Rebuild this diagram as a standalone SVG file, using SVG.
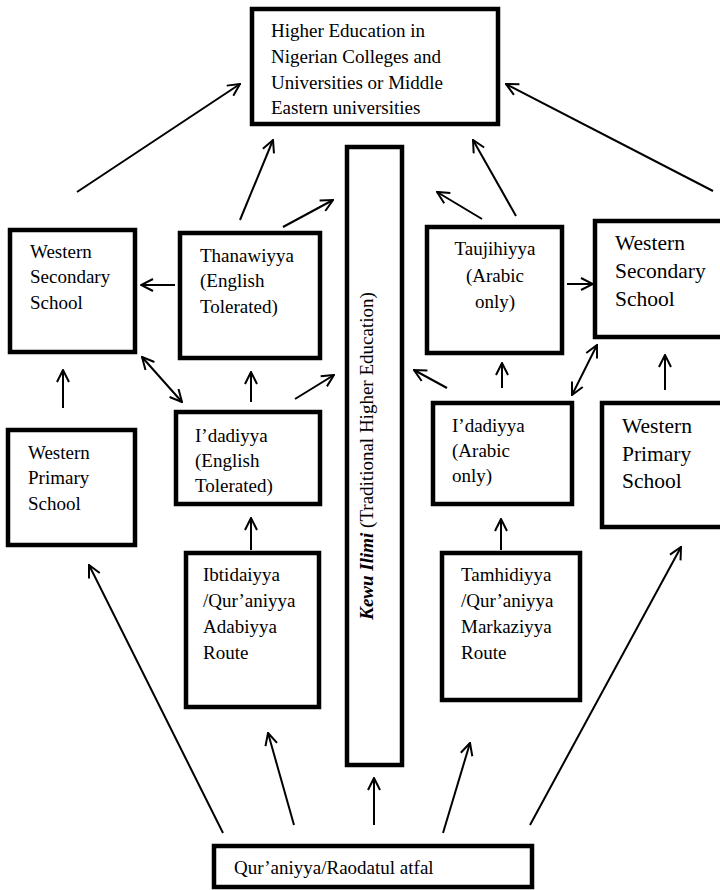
<svg xmlns="http://www.w3.org/2000/svg" width="720" height="890" viewBox="0 0 720 890">
<defs>
<style>
.box{fill:#fff;stroke:#000;stroke-width:4.5}
.t{font-family:"Liberation Serif","Times New Roman",serif;font-size:19px;fill:#000}
.tl{font-family:"Liberation Serif","Times New Roman",serif;font-size:21.5px;fill:#000}
.c{text-anchor:middle}
.ar{fill:none;stroke:#000;stroke-width:2;marker-end:url(#ah)}
.dbl{marker-start:url(#ah)}
</style>
<marker id="ah" viewBox="0 0 14 14" refX="13" refY="7" markerWidth="14" markerHeight="14" markerUnits="userSpaceOnUse" orient="auto-start-reverse">
<path d="M1,1 L13,7 L1,13" fill="none" stroke="#000" stroke-width="2"/>
</marker>
</defs>
<rect width="720" height="890" fill="#fff"/>

<g id="higher">
<rect class="box" x="252" y="9" width="246" height="115"/>
<text class="t" x="271" y="37">Higher Education in</text>
<text class="t" x="271" y="63">Nigerian Colleges and</text>
<text class="t" x="271" y="89">Universities or Middle</text>
<text class="t" x="271" y="114">Eastern universities</text>
</g>

<g id="wss-left">
<rect class="box" x="10" y="230" width="125" height="122"/>
<text class="t" x="30" y="258">Western</text>
<text class="t" x="30" y="283">Secondary</text>
<text class="t" x="30" y="309">School</text>
</g>

<g id="thanawiyya">
<rect class="box" x="180" y="233" width="140" height="125"/>
<text class="t" x="200" y="262">Thanawiyya</text>
<text class="t" x="200" y="287">(English</text>
<text class="t" x="200" y="313">Tolerated)</text>
</g>

<g id="kewu">
<rect class="box" x="347" y="147" width="55" height="618"/>
<text class="t c" transform="translate(373,456) rotate(-90)"><tspan font-weight="bold" font-style="italic">Kewu Ilimi</tspan> (Traditional Higher Education)</text>
</g>

<g id="taujihiyya">
<rect class="box" x="427" y="227" width="135" height="126"/>
<text class="t c" x="495" y="255">Taujihiyya</text>
<text class="t c" x="495" y="282">(Arabic</text>
<text class="t c" x="495" y="308">only)</text>
</g>

<g id="wss-right">
<rect class="box" x="595" y="221" width="135" height="116"/>
<text class="tl" x="615" y="250">Western</text>
<text class="tl" x="615" y="278">Secondary</text>
<text class="tl" x="615" y="306">School</text>
</g>

<g id="wps-left">
<rect class="box" x="8" y="430" width="127" height="115"/>
<text class="t" x="28" y="459">Western</text>
<text class="t" x="28" y="484">Primary</text>
<text class="t" x="28" y="510">School</text>
</g>

<g id="idadiyya-english">
<rect class="box" x="176" y="412" width="144" height="92"/>
<text class="t" x="195" y="442">I’dadiyya</text>
<text class="t" x="195" y="467">(English</text>
<text class="t" x="195" y="492">Tolerated)</text>
</g>

<g id="idadiyya-arabic">
<rect class="box" x="433" y="403" width="139" height="101"/>
<text class="t" x="452" y="432">I’dadiyya</text>
<text class="t" x="452" y="457">(Arabic</text>
<text class="t" x="452" y="482">only)</text>
</g>

<g id="wps-right">
<rect class="box" x="602" y="403" width="128" height="124"/>
<text class="tl" x="622" y="433">Western</text>
<text class="tl" x="622" y="461">Primary</text>
<text class="tl" x="622" y="488">School</text>
</g>

<g id="ibtidaiyya">
<rect class="box" x="186" y="553" width="133" height="154"/>
<text class="t" x="203" y="581">Ibtidaiyya</text>
<text class="t" x="203" y="607">/Qur’aniyya</text>
<text class="t" x="203" y="633">Adabiyya</text>
<text class="t" x="203" y="659">Route</text>
</g>

<g id="tamhidiyya">
<rect class="box" x="442" y="553" width="138" height="147"/>
<text class="t" x="461" y="581">Tamhidiyya</text>
<text class="t" x="461" y="607">/Qur’aniyya</text>
<text class="t" x="461" y="633">Markaziyya</text>
<text class="t" x="461" y="659">Route</text>
</g>

<g id="quraniyya">
<rect class="box" x="214" y="846" width="318" height="41"/>
<text class="t" x="234" y="874">Qur’aniyya/Raodatul atfal</text>
</g>

<g id="connectors">
<line class="ar" x1="77" y1="192" x2="240" y2="84"/>
<line class="ar" x1="240" y1="220" x2="273" y2="140"/>
<line class="ar" x1="283" y1="227" x2="333" y2="200"/>
<line class="ar" x1="516" y1="216" x2="473" y2="140"/>
<line class="ar" x1="482" y1="219" x2="437" y2="192"/>
<line class="ar" x1="713" y1="191" x2="506" y2="84"/>
<line class="ar" x1="175" y1="285" x2="141" y2="285"/>
<line class="ar" x1="567" y1="284" x2="593" y2="284"/>
<line class="ar" x1="63" y1="408" x2="63" y2="370"/>
<line class="ar" x1="251" y1="402" x2="251" y2="372"/>
<line class="ar dbl" x1="142" y1="357" x2="182" y2="402"/>
<line class="ar" x1="295" y1="399" x2="334" y2="375"/>
<line class="ar" x1="502" y1="388" x2="502" y2="363"/>
<line class="ar" x1="447" y1="388" x2="414" y2="370"/>
<line class="ar dbl" x1="572" y1="395" x2="597" y2="345"/>
<line class="ar" x1="665" y1="390" x2="665" y2="355"/>
<line class="ar" x1="251" y1="550" x2="251" y2="518"/>
<line class="ar" x1="501" y1="550" x2="501" y2="519"/>
<line class="ar" x1="223" y1="833" x2="89" y2="565"/>
<line class="ar" x1="294" y1="825" x2="268" y2="733"/>
<line class="ar" x1="374" y1="825" x2="374" y2="778"/>
<line class="ar" x1="443" y1="833" x2="470" y2="743"/>
<line class="ar" x1="530" y1="825" x2="681" y2="547"/>
</g>
</svg>
